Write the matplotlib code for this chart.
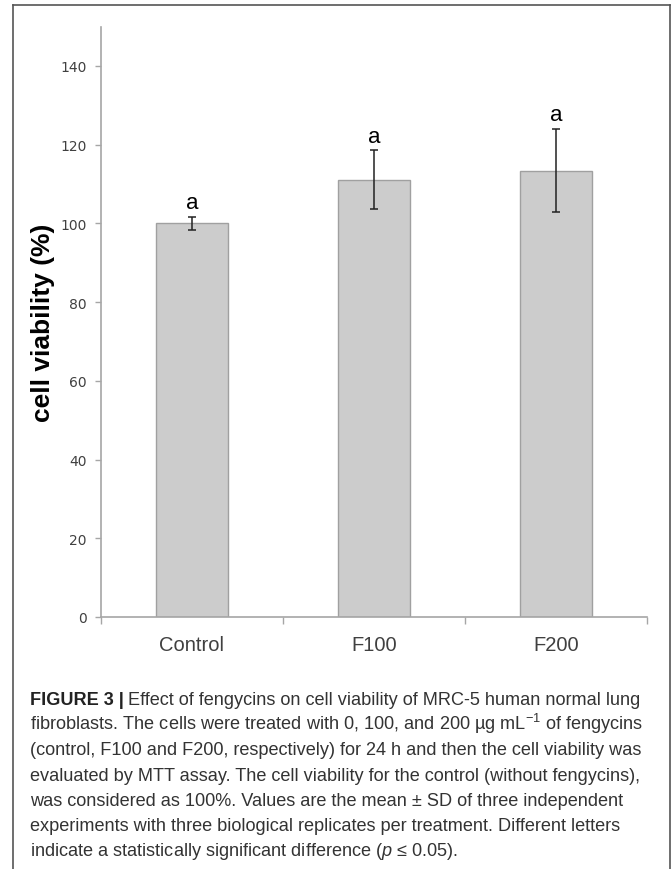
import matplotlib
matplotlib.use("Agg")
import matplotlib.pyplot as plt
from matplotlib import font_manager
from matplotlib.lines import Line2D

# data
groups = ["Control", "F100", "F200"]
viability = [100.0, 111.1, 113.4]
sd = [1.6, 7.5, 10.6]
letters = ["a", "a", "a"]

names = {f.name for f in font_manager.fontManager.ttflist}
narrow = "Liberation Sans Narrow" if "Liberation Sans Narrow" in names else "Liberation Sans"

plt.rcParams["mathtext.fontset"] = "custom"
plt.rcParams["mathtext.rm"] = narrow
plt.rcParams["mathtext.it"] = narrow + ":italic"

W, H = 672, 870
fig = plt.figure(figsize=(W / 100, H / 100), dpi=100)

# frame around the figure panel (open at the bottom)
fc = "#555555"
fig.add_artist(Line2D([13 / W, 13 / W], [0, 1 - 6 / H], color=fc, lw=1.2))
fig.add_artist(Line2D([13 / W, 670 / W], [1 - 6 / H, 1 - 6 / H], color=fc, lw=1.2))
fig.add_artist(Line2D([670 / W, 670 / W], [0, 1 - 6 / H], color=fc, lw=1.2))

ax = fig.add_axes([101 / W, 1 - 618 / H, 546 / W, (618 - 27.6) / H])
x = range(len(groups))
ax.bar(x, viability, width=0.4, color="#cccccc", edgecolor="#a0a0a0", linewidth=1.0, zorder=2)
ax.errorbar(x, viability, yerr=sd, fmt="none", ecolor="#222222", elinewidth=1.1,
            capsize=3, capthick=1.1, zorder=3)
for i, (v, s, l) in enumerate(zip(viability, sd, letters)):
    ax.text(i, v + s + 2.2, l, ha="center", va="baseline", fontsize=16,
            family="Liberation Sans", color="black")

ax.set_xlim(-0.5, 2.5)
ax.set_ylim(0, 150)
ax.set_yticks(range(0, 141, 20))
ax.set_xticks(list(x))
ax.set_xticklabels(groups, family="Liberation Sans", fontsize=14.5, color="#404040")
ax.set_xticks([-0.5, 0.5, 1.5, 2.5], minor=True)
ax.tick_params(axis="x", which="major", length=0, pad=13)
ax.tick_params(axis="x", which="minor", length=5, width=1.0, color="#a6a6a6", direction="out")
ax.tick_params(axis="y", length=4.5, width=1.0, color="#a6a6a6", labelsize=10,
               labelcolor="#404040", pad=6)
for sp in ["top", "right"]:
    ax.spines[sp].set_visible(False)
for sp in ["left", "bottom"]:
    ax.spines[sp].set_color("#a6a6a6")
    ax.spines[sp].set_linewidth(1.2)

fig.text(43 / W, 1 - 323 / H, "cell viability (%)", rotation=90, ha="center", va="center",
         fontsize=19, fontweight="bold", family="Liberation Sans", color="black")

# caption
cap_lines = [
    None,
    "fibroblasts. The cells were treated with 0, 100, and 200 \u00b5g mL$^{-1}$ of fengycins",
    "(control, F100 and F200, respectively) for 24 h and then the cell viability was",
    "evaluated by MTT assay. The cell viability for the control (without fengycins),",
    "was considered as 100%. Values are the mean \u00b1 SD of three independent",
    "experiments with three biological replicates per treatment. Different letters",
    "indicate a statistically significant difference ($p$ \u2264 0.05).",
]
cfs = 13.1
ccol = "#333333"
base = 705
step = 25.2
renderer = fig.canvas.get_renderer()
bold = fig.text(30 / W, 1 - base / H, "FIGURE 3 |", fontsize=cfs, fontweight="bold",
                family=[narrow, "DejaVu Sans"], color="#222222", va="baseline")
bb = bold.get_window_extent(renderer)
fig.text(bb.x1 / W + 4 / W, 1 - base / H,
         "Effect of fengycins on cell viability of MRC-5 human normal lung",
         fontsize=cfs, family=[narrow, "DejaVu Sans"], color=ccol, va="baseline")
for k, line in enumerate(cap_lines):
    if line is None:
        continue
    fig.text(30 / W, 1 - (base + k * step) / H, line, fontsize=cfs,
             family=[narrow, "DejaVu Sans"], color=ccol, va="baseline")

fig.savefig("out.png", dpi=100)
